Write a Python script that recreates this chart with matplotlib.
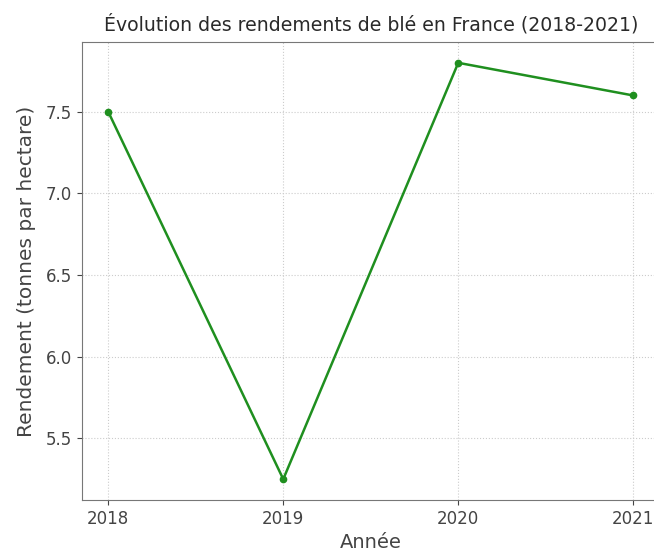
from matplotlib import pyplot as plt

# Données : rendements de blé en France
annees = [2018, 2019, 2020, 2021]
rendements = [7.5, 5.25, 7.8, 7.6]

plt.rcParams['font.family'] = ['DejaVu Sans']

fig = plt.figure(figsize=(6.54, 5.54), dpi=100)
ax = fig.add_axes([0.1254, 0.0975, 0.883, 0.8267])

ax.plot(annees, rendements, color='#1f8f1f', linewidth=1.8, marker='o', markersize=4.5)

ax.set_title('Évolution des rendements de blé en France (2018-2021)', fontsize=13.6, color='#2a2a2a', pad=8)
ax.set_xlabel('Année', fontsize=14, color='#444444', labelpad=4)
ax.set_ylabel('Rendement (tonnes par hectare)', fontsize=14.5, color='#444444', labelpad=7)
ax.set_xticks(annees)
ax.tick_params(labelsize=12, colors='#444444')
ax.grid(True, linestyle=':', linewidth=0.8, color='#cccccc')
for s in ax.spines.values():
    s.set_color('#777777')
ax.spines['right'].set_visible(False)

fig.savefig('out.png', dpi=100)
